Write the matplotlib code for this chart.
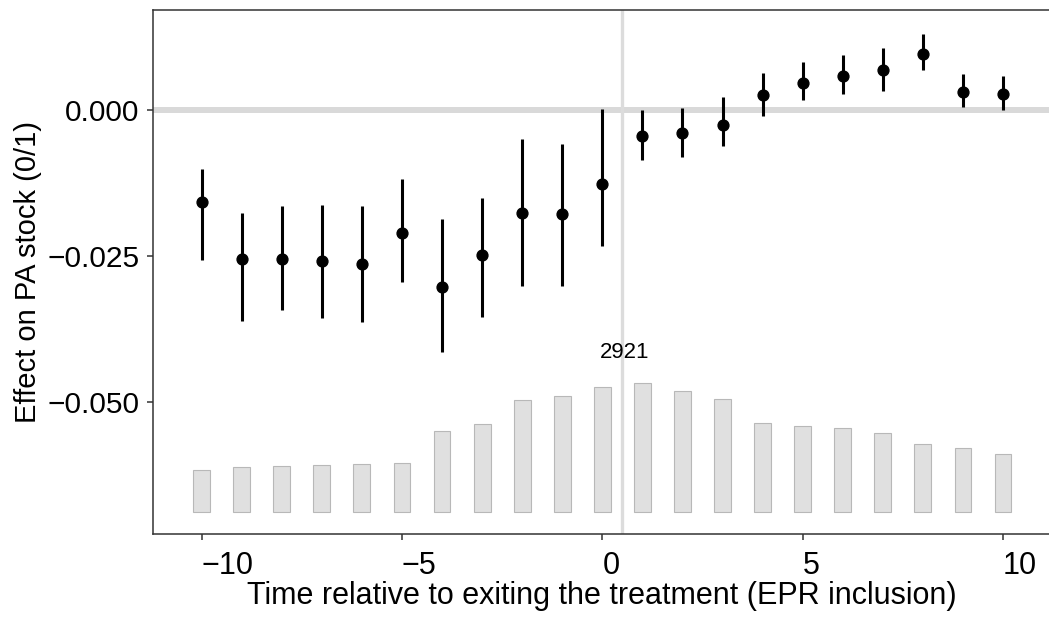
import matplotlib
matplotlib.use("Agg")
import matplotlib.pyplot as plt
import numpy as np

plt.rcParams["font.family"] = ["Liberation Sans", "DejaVu Sans"]

# event time relative to exit
periods = list(range(-10, 11))

# point estimates and 95% CI bounds
estimates = [-0.0158, -0.0255, -0.0256, -0.0259, -0.0264, -0.0210, -0.0304,
             -0.0249, -0.0177, -0.0179, -0.0126, -0.0045, -0.0040, -0.0025,
             0.0026, 0.0047, 0.0058, 0.0069, 0.0096, 0.0031, 0.0028]
ci_low = [-0.0257, -0.0362, -0.0342, -0.0357, -0.0363, -0.0295, -0.0414,
          -0.0355, -0.0301, -0.0302, -0.0233, -0.0085, -0.0080, -0.0062,
          -0.0011, 0.0018, 0.0028, 0.0033, 0.0068, 0.0006, 0.0000]
ci_high = [-0.0101, -0.0177, -0.0165, -0.0163, -0.0165, -0.0119, -0.0187,
           -0.0150, -0.0049, -0.0058, 0.0002, 0.0000, 0.0003, 0.0023,
           0.0063, 0.0082, 0.0094, 0.0106, 0.0131, 0.0062, 0.0059]

# number of observations per period
counts = [942, 1024, 1033, 1056, 1078, 1115, 1829, 2002, 2541, 2639, 2844,
          2921, 2739, 2557, 2018, 1943, 1897, 1797, 1533, 1442, 1306]

# histogram is squeezed into the bottom of the panel
hist_base = -0.0688
hist_height = 0.0220

t = np.array(periods)
est = np.array(estimates)
lo = np.array(ci_low)
hi = np.array(ci_high)
n = np.array(counts)
bar_h = n / n.max() * hist_height

fig = plt.figure(figsize=(10.49, 6.28), dpi=100)
ax = fig.add_axes([0.1456, 0.1497, 0.8560, 0.8344])

ax.bar(t, bar_h, bottom=hist_base, width=0.42, color="#E0E0E0",
       edgecolor="#B8B8B8", linewidth=0.8, zorder=1)
imax = int(np.argmax(n))
ax.annotate(f"{n[imax]}", xy=(0.55, hist_base + bar_h[imax]),
            xytext=(0, 22), textcoords="offset points",
            ha="center", va="center", fontsize=16, zorder=3)

ax.axhline(0, color="#D9D9D9", linewidth=4.3, zorder=2)
ax.axvline(0.5, color="#DCDCDC", linewidth=2.4, zorder=2)

ax.vlines(t, lo, hi, color="black", linewidth=2.2, zorder=4)
ax.plot(t, est, "o", color="black", markersize=7.8, zorder=5)

ax.set_xlim(-11.22, 11.19)
ax.set_ylim(-0.07265, 0.01714)

ax.set_xticks([-10, -5, 0, 5, 10])
ax.set_xticklabels(["\u221210", "\u22125", "0", "5", "10"], ha="left")
ax.set_yticks([0.0, -0.025, -0.05])
ax.set_yticklabels(["0.000", "\u22120.025", "\u22120.050"])

ax.tick_params(axis="both", length=4.5, width=1.1,
               color="#333333", labelcolor="black")
ax.tick_params(axis="x", labelsize=22, pad=8)
ax.tick_params(axis="y", labelsize=21.5, pad=5)
for side in ["left", "bottom", "top"]:
    ax.spines[side].set_color("#333333")
    ax.spines[side].set_linewidth(1.1)
ax.spines["right"].set_visible(False)

ax.set_xlabel("Time relative to exiting the treatment (EPR inclusion)",
              fontsize=22, labelpad=0)
ax.set_ylabel("Effect on PA stock (0/1)", fontsize=21, labelpad=4)

fig.savefig("out.png", dpi=100)
